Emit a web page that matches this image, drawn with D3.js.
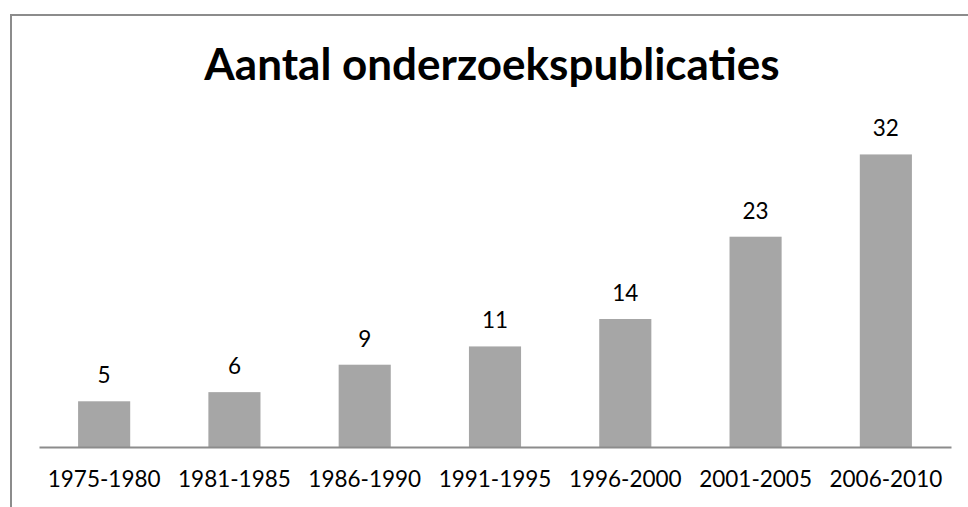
<!DOCTYPE html>
<html>
<head>
<meta charset="utf-8">
<script src="https://cdn.jsdelivr.net/npm/d3@7"></script>
<style>
  body { margin: 0; background: #fff; }
  svg { display: block; }
</style>
</head>
<body>
<svg width="968" height="507"></svg>
<script>
const periods = ['1975-1980','1981-1985','1986-1990','1991-1995','1996-2000','2001-2005','2006-2010'];
const counts = [5, 6, 9, 11, 14, 23, 32];
const title = 'Aantal onderzoekspublicaties';

const svg = d3.select('svg');
const width = +svg.attr('width');
const height = +svg.attr('height');

// chart frame, runs off the right and bottom edge like in the original
svg.append('rect')
  .attr('x', 11).attr('y', 15)
  .attr('width', width + 20).attr('height', height + 20)
  .attr('fill', '#fff')
  .attr('stroke', '#8c8c8c')
  .attr('stroke-width', 2);

const x = d3.scaleBand()
  .domain(periods)
  .range([39, 951])
  .paddingInner(0.6)
  .paddingOuter(0.3);

const y = d3.scaleLinear()
  .domain([0, 35])
  .range([447, 127]);

svg.append('text')
  .attr('x', 492).attr('y', 80)
  .attr('text-anchor', 'middle')
  .style('font-family', 'Lato, sans-serif')
  .style('font-weight', 'bold')
  .style('font-size', '44px')
  .text(title);

svg.selectAll('rect.bar')
  .data(counts)
  .enter().append('rect')
  .attr('class', 'bar')
  .attr('x', (d, i) => x(periods[i]))
  .attr('y', d => y(d))
  .attr('width', x.bandwidth())
  .attr('height', d => y(0) - y(d))
  .attr('fill', '#a6a6a6');

svg.selectAll('text.val')
  .data(counts)
  .enter().append('text')
  .attr('class', 'val')
  .attr('x', (d, i) => x(periods[i]) + x.bandwidth() / 2)
  .attr('y', d => y(d) - 18)
  .attr('text-anchor', 'middle')
  .style('font-family', 'Lato, sans-serif')
  .style('font-size', '22.5px')
  .text(d => d);

const xAxis = d3.axisBottom(x).tickSize(0).tickPadding(24);
const gX = svg.append('g')
  .attr('transform', 'translate(0,' + y(0) + ')')
  .call(xAxis);
gX.select('.domain').attr('stroke', '#8c8c8c').attr('stroke-width', 2);
gX.selectAll('text')
  .style('font-family', 'Lato, sans-serif')
  .style('font-size', '22.5px')
  .attr('fill', '#000');
</script>
</body>
</html>
